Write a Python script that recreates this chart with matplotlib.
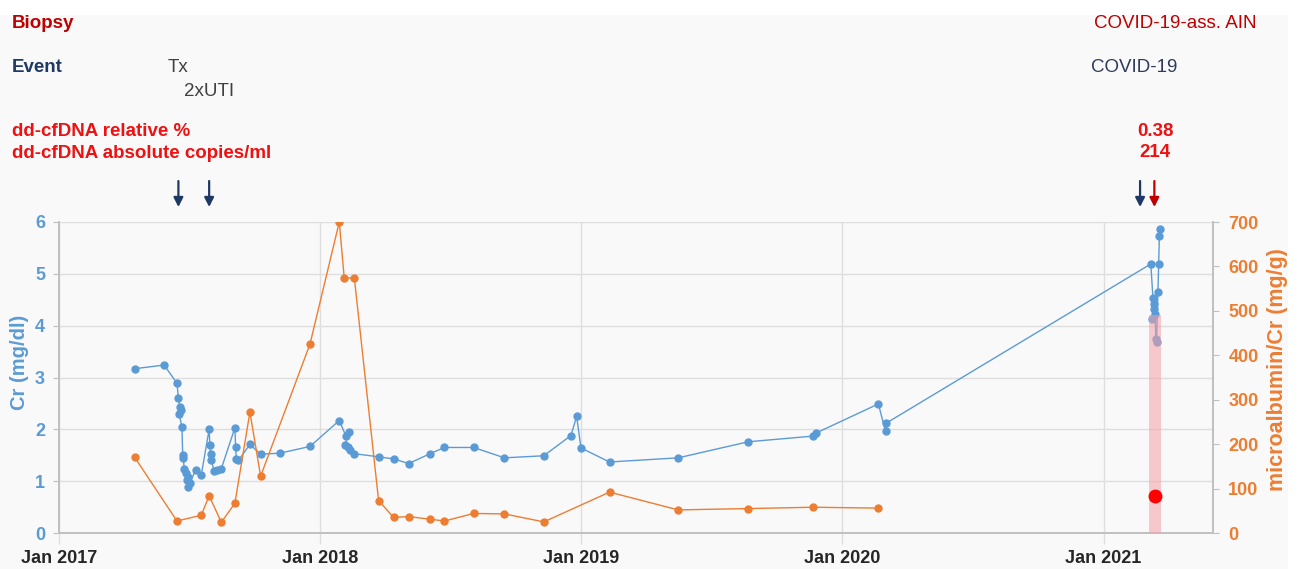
import matplotlib
matplotlib.use('Agg')
import matplotlib.pyplot as plt
import matplotlib.dates as mdates
import pandas as pd
from matplotlib.patches import Rectangle

plt.rcParams['font.family'] = ['Liberation Sans', 'DejaVu Sans']

# ---------------- data ----------------
cr_dates = ['2017-04-17', '2017-05-28', '2017-06-15', '2017-06-17', '2017-06-19', '2017-06-20',
            '2017-06-18', '2017-06-22', '2017-06-23', '2017-06-24', '2017-06-25', '2017-06-28',
            '2017-06-30', '2017-06-29', '2017-07-03', '2017-07-01', '2017-07-11', '2017-07-19',
            '2017-07-30', '2017-07-31', '2017-08-01', '2017-08-02', '2017-08-06', '2017-08-10',
            '2017-08-16', '2017-09-04', '2017-09-05', '2017-09-06', '2017-09-09', '2017-09-25',
            '2017-10-10', '2017-11-06', '2017-12-18', '2018-01-28', '2018-02-06', '2018-02-10',
            '2018-02-05', '2018-02-09', '2018-02-12', '2018-02-18', '2018-03-24', '2018-04-14',
            '2018-05-05', '2018-06-04', '2018-06-24', '2018-08-04', '2018-09-16', '2018-11-10',
            '2018-12-18', '2018-12-26', '2019-01-01', '2019-02-10', '2019-05-17', '2019-08-23',
            '2019-11-22', '2019-11-26', '2020-02-21', '2020-03-02', '2020-03-03',
            '2021-03-08', '2021-03-11', '2021-03-12', '2021-03-12', '2021-03-09', '2021-03-14',
            '2021-03-15', '2021-03-16', '2021-03-18', '2021-03-19', '2021-03-20', '2021-03-21']
cr_values = [3.17, 3.24, 2.89, 2.60, 2.43, 2.37,
             2.30, 2.04, 1.50, 1.44, 1.24, 1.15,
             1.08, 1.02, 0.96, 0.89, 1.22, 1.12,
             2.00, 1.70, 1.53, 1.40, 1.20, 1.21,
             1.24, 2.03, 1.66, 1.42, 1.40, 1.71,
             1.52, 1.54, 1.67, 2.17, 1.88, 1.95,
             1.69, 1.66, 1.60, 1.53, 1.47, 1.43,
             1.34, 1.53, 1.65, 1.65, 1.45, 1.49,
             1.88, 2.25, 1.64, 1.37, 1.45, 1.76,
             1.87, 1.93, 2.49, 1.96, 2.12,
             5.19, 4.54, 4.42, 4.32, 4.13, 4.23,
             3.74, 3.69, 4.65, 5.19, 5.73, 5.87]

alb_dates = ['2017-04-17', '2017-06-15', '2017-07-19', '2017-07-30', '2017-08-16', '2017-09-04',
             '2017-09-25', '2017-10-10', '2017-12-18', '2018-01-28', '2018-02-04', '2018-02-18',
             '2018-03-24', '2018-04-14', '2018-05-05', '2018-06-04', '2018-06-24', '2018-08-04',
             '2018-09-16', '2018-11-10', '2019-02-10', '2019-05-17', '2019-08-23', '2019-11-22',
             '2020-02-21']
alb_values = [170, 27, 40, 84, 24, 67,
              272, 128, 425, 700, 573, 575,
              73, 35, 37, 31, 27, 44,
              43, 25, 92, 52, 55, 58,
              56]

biopsy_date = '2021-03-14'
biopsy_bar_height = 490
biopsy_dot_value = 84

event_arrow_dates = ['2017-06-17', '2017-07-30', '2021-02-21']
biopsy_arrow_dates = ['2021-03-13']

x_ticks = ['2017-01-01', '2018-01-01', '2019-01-01', '2020-01-01', '2021-01-01']
x_range = ['2017-01-01', '2021-06-03']

# ---------------- style ----------------
BLUE = '#5b9bd5'
ORANGE = '#ed7d31'
NAVY = '#1f3864'
DARKRED = '#c00000'
RED = '#ee1111'
GRID = '#dedede'
SPINE = '#c0c0c0'

W, H = 1303, 569
fig = plt.figure(figsize=(W / 100, H / 100), dpi=100)
fig.patch.set_facecolor('white')
fig.patches.append(Rectangle((0, 0), 1288 / W, 1 - 15 / H, transform=fig.transFigure,
                             facecolor='#f9f9f9', edgecolor='none', zorder=-10))

ax = fig.add_axes([59 / W, 1 - 533 / H, (1213 - 59) / W, (533 - 222) / H])
ax.patch.set_alpha(0)
ax2 = ax.twinx()

d_cr = pd.to_datetime(cr_dates)
d_alb = pd.to_datetime(alb_dates)

ax.plot(d_cr, cr_values, color=BLUE, lw=1.0, marker='o', ms=5, mec=BLUE, mfc=BLUE, zorder=3)
ax2.plot(d_alb, alb_values, color=ORANGE, lw=1.0, marker='o', ms=5, mec=ORANGE, mfc=ORANGE, zorder=3)
ax2.bar(pd.to_datetime([biopsy_date]), [biopsy_bar_height], width=17, color='#f4a0a8', alpha=0.55,
        zorder=4, align='center')
ax2.plot(pd.to_datetime([biopsy_date]), [biopsy_dot_value], 'o', color='#ff0000', ms=9, zorder=5)

ax.set_xlim(pd.to_datetime(x_range[0]), pd.to_datetime(x_range[1]))
ax.set_ylim(0, 6)
ax2.set_ylim(0, 700)

ax.set_xticks(pd.to_datetime(x_ticks))
ax.xaxis.set_major_formatter(mdates.DateFormatter('%b %Y'))
ax.set_yticks(range(0, 7))
ax2.set_yticks(range(0, 701, 100))

ax.grid(True, color=GRID, lw=1.0, zorder=0)
ax.set_axisbelow(True)

for a in (ax, ax2):
    a.spines['top'].set_visible(False)
    for s in ('left', 'right', 'bottom'):
        a.spines[s].set_color(SPINE)
        a.spines[s].set_linewidth(1.2)

ax.tick_params(axis='x', length=8, color=GRID, width=1, pad=4, labelsize=13, labelcolor='#262626')
ax.tick_params(axis='y', length=4, color=SPINE, pad=6, labelsize=13, labelcolor=BLUE)
ax2.tick_params(axis='y', length=4, color=SPINE, pad=7, labelsize=13, labelcolor=ORANGE)
for lab in ax.get_xticklabels() + ax.get_yticklabels() + ax2.get_yticklabels():
    lab.set_fontweight('bold')


def ftext(x, y, s, **kw):
    fig.text(x / W, 1 - y / H, s, va='center', **kw)


ftext(20, 362, 'Cr (mg/dl)', color=BLUE, fontsize=14.5, fontweight='bold', rotation=90, ha='center')
ftext(1277, 370, 'microalbumin/Cr (mg/g)', color=ORANGE, fontsize=15.5, fontweight='bold',
      rotation=90, ha='center')

ftext(12, 24, 'Biopsy', color=DARKRED, fontsize=13.5, fontweight='bold', ha='left')
ftext(12, 68, 'Event', color=NAVY, fontsize=13.5, fontweight='bold', ha='left')
ftext(178, 68, 'Tx', color='#404040', fontsize=13.5, ha='center')
ftext(209, 91, '2xUTI', color='#404040', fontsize=13.5, ha='center')
ftext(12, 131, 'dd-cfDNA relative %', color=RED, fontsize=13.5, fontweight='bold', ha='left')
ftext(12, 154, 'dd-cfDNA absolute copies/ml', color=RED, fontsize=13.5, fontweight='bold', ha='left')
ftext(1257, 23, 'COVID-19-ass. AIN', color=DARKRED, fontsize=13.5, ha='right')
ftext(1134, 68, 'COVID-19', color='#2f3b5c', fontsize=13.5, ha='center')
ftext(1155, 131, '0.38', color=RED, fontsize=13.5, fontweight='bold', ha='center')
ftext(1155, 153, '214', color=RED, fontsize=13.5, fontweight='bold', ha='center')


def arrow(date, color):
    xd = mdates.date2num(pd.Timestamp(date))
    ax.annotate('', xy=(xd, 1 - 207 / H), xycoords=('data', 'figure fraction'),
                xytext=(xd, 1 - 181 / H), textcoords=('data', 'figure fraction'),
                arrowprops=dict(arrowstyle='-|>,head_length=0.55,head_width=0.28', color=color,
                                lw=1.6, shrinkA=0, shrinkB=0),
                annotation_clip=False)


for d in event_arrow_dates:
    arrow(d, NAVY)
for d in biopsy_arrow_dates:
    arrow(d, DARKRED)

fig.savefig('out.png', dpi=100, facecolor=fig.get_facecolor())
